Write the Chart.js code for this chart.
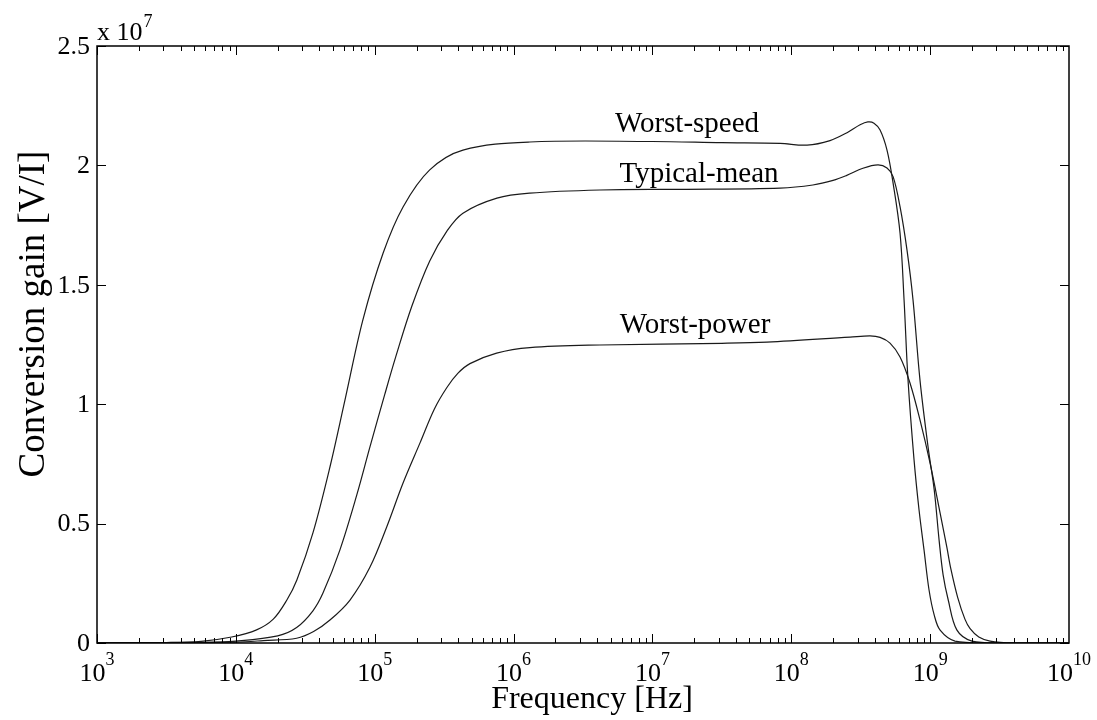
<!DOCTYPE html>
<html>
<head>
<meta charset="utf-8">
<script src="https://cdn.jsdelivr.net/npm/chart.js@4.4.1/dist/chart.umd.min.js"></script>
<style>
html, body { margin: 0; padding: 0; background: #fff; }
#wrap { width: 1097px; height: 720px; }
</style>
</head>
<body>
<div id="wrap"><canvas id="myChart"></canvas></div>
<script>
// frequency in Hz, gain in units of 1e7 V/I
const worstSpeedFreq = [1e3, 3.16e3, 5.62e3, 9.33e3, 1.41e4, 1.86e4, 2.33e4, 2.75e4, 3.59e4, 4.76e4, 6.11e4, 8.22e4, 1.15e5, 1.60e5, 2.49e5, 4.32e5, 1.31e6, 1e7, 3.16e7, 8.30e7, 1.30e8, 1.90e8, 2.52e8, 3.13e8, 3.56e8, 3.94e8, 4.36e8, 4.89e8, 5.41e8, 6.07e8, 6.49e8, 6.93e8, 7.66e8, 8.32e8, 9.04e8, 9.82e8, 1.07e9, 1.18e9, 1.51e9, 2.51e9, 1e10];
const worstSpeedGain = [0.001, 0.002, 0.007, 0.025, 0.055, 0.10, 0.18, 0.264, 0.461, 0.737, 1.018, 1.353, 1.633, 1.826, 1.981, 2.064, 2.098, 2.10, 2.095, 2.092, 2.085, 2.104, 2.137, 2.17, 2.182, 2.177, 2.148, 2.064, 1.926, 1.717, 1.436, 1.101, 0.766, 0.557, 0.389, 0.222, 0.117, 0.054, 0.008, 0, 0];

const typicalMeanFreq = [1e3, 5.62e3, 1e4, 2.0e4, 2.74e4, 3.59e4, 4.24e4, 5.61e4, 7.43e4, 9.23e4, 1.18e5, 1.42e5, 1.85e5, 2.49e5, 3.31e5, 4.32e5, 7.59e5, 1.31e6, 4.19e6, 1.58e7, 8.30e7, 1.43e8, 2.0e8, 2.51e8, 3.28e8, 4.21e8, 4.89e8, 5.41e8, 6.07e8, 6.81e8, 7.53e8, 8.45e8, 9.66e8, 1.07e9, 1.16e9, 1.24e9, 1.35e9, 1.56e9, 2.0e9, 3.16e9, 1e10];
const typicalMeanGain = [0.0005, 0.002, 0.008, 0.03, 0.065, 0.135, 0.209, 0.389, 0.62, 0.82, 1.04, 1.20, 1.41, 1.60, 1.725, 1.80, 1.863, 1.884, 1.897, 1.90, 1.905, 1.918, 1.937, 1.958, 1.988, 2.002, 1.989, 1.953, 1.827, 1.646, 1.436, 1.101, 0.821, 0.641, 0.431, 0.285, 0.180, 0.054, 0.008, 0, 0];

const worstPowerFreq = [1e3, 1e4, 1.58e4, 2.74e4, 3.63e4, 4.76e4, 6.64e4, 9.25e4, 1.22e5, 1.60e5, 2.12e5, 2.69e5, 3.31e5, 3.98e5, 4.85e5, 7.55e5, 1.31e6, 4.19e6, 3.16e7, 6.68e7, 2.65e8, 3.69e8, 4.36e8, 5.14e8, 6.07e8, 7.16e8, 8.45e8, 9.98e8, 1.18e9, 1.32e9, 1.41e9, 1.58e9, 1.78e9, 1.94e9, 2.24e9, 2.70e9, 3.98e9, 1e10];
const worstPowerGain = [0.0003, 0.004, 0.010, 0.020, 0.048, 0.096, 0.18, 0.318, 0.486, 0.670, 0.838, 0.98, 1.07, 1.13, 1.17, 1.214, 1.237, 1.248, 1.255, 1.260, 1.281, 1.286, 1.28, 1.256, 1.198, 1.089, 0.934, 0.754, 0.544, 0.40, 0.31, 0.19, 0.10, 0.06, 0.025, 0.008, 0, 0];

const xTickExps = [3, 4, 5, 6, 7, 8, 9, 10];
const yTicks = [0, 0.5, 1, 1.5, 2, 2.5];
const yTickLabels = ["0", "0.5", "1", "1.5", "2", "2.5"];

const curveLabels = [
  { text: "Worst-speed", x: 687, y: 132 },
  { text: "Typical-mean", x: 699, y: 182 },
  { text: "Worst-power", x: 695, y: 333 },
];

const serif = '"Liberation Serif", "Times New Roman", serif';

function toPoints(freq, gain) {
  return freq.map((f, i) => ({ x: f, y: gain[i] }));
}

const axesPlugin = {
  id: "matlabAxes",
  afterDraw(chart) {
    const { ctx, chartArea: a, scales } = chart;
    const x = scales.x, y = scales.y;
    ctx.save();
    ctx.strokeStyle = "#000";
    ctx.fillStyle = "#000";

    // box
    ctx.lineWidth = 1.5;
    ctx.strokeRect(a.left, a.top, a.right - a.left, a.bottom - a.top);

    // x ticks (major + minor), pointing inwards
    ctx.lineWidth = 1;
    ctx.beginPath();
    for (let e = 3; e < 10; e++) {
      for (let k = 1; k <= 9; k++) {
        const px = Math.round(x.getPixelForValue(k * Math.pow(10, e))) + 0.5;
        const len = k === 1 ? 9 : 5;
        ctx.moveTo(px, a.bottom); ctx.lineTo(px, a.bottom - len);
        ctx.moveTo(px, a.top); ctx.lineTo(px, a.top + len);
      }
    }
    yTicks.forEach((v) => {
      const py = Math.round(y.getPixelForValue(v)) + 0.5;
      ctx.moveTo(a.left, py); ctx.lineTo(a.left + 9, py);
      ctx.moveTo(a.right, py); ctx.lineTo(a.right - 9, py);
    });
    ctx.stroke();

    // x tick labels 10^n
    ctx.textBaseline = "alphabetic";
    ctx.textAlign = "left";
    xTickExps.forEach((e) => {
      const px = x.getPixelForValue(Math.pow(10, e));
      ctx.font = "26px " + serif;
      const wBase = ctx.measureText("10").width;
      ctx.font = "18px " + serif;
      const wExp = ctx.measureText(String(e)).width;
      const left = px - (wBase + wExp) / 2;
      ctx.font = "26px " + serif;
      ctx.fillText("10", left, 681);
      ctx.font = "18px " + serif;
      ctx.fillText(String(e), left + wBase, 665);
    });

    // y tick labels
    ctx.font = "26px " + serif;
    ctx.textAlign = "right";
    ctx.textBaseline = "middle";
    yTicks.forEach((v, i) => {
      ctx.fillText(yTickLabels[i], a.left - 7, y.getPixelForValue(v) + 1);
    });

    // exponent label
    ctx.textAlign = "left";
    ctx.textBaseline = "alphabetic";
    ctx.font = "26px " + serif;
    ctx.fillText("x 10", a.left, 40);
    const wx = ctx.measureText("x 10").width;
    ctx.font = "18px " + serif;
    ctx.fillText("7", a.left + wx + 1, 27);

    // axis titles
    ctx.font = "32px " + serif;
    ctx.textAlign = "center";
    ctx.fillText("Frequency [Hz]", 592, 708);
    ctx.save();
    ctx.font = "37px " + serif;
    ctx.translate(44, 314);
    ctx.rotate(-Math.PI / 2);
    ctx.fillText("Conversion gain [V/I]", 0, 0);
    ctx.restore();

    // curve labels
    ctx.font = "29px " + serif;
    curveLabels.forEach((l) => ctx.fillText(l.text, l.x, l.y));

    ctx.restore();
  },
};

const lineStyle = {
  borderColor: "#1a1a1a",
  borderWidth: 1.2,
  pointRadius: 0,
  fill: false,
  tension: 0.35,
};

new Chart(document.getElementById("myChart"), {
  type: "line",
  data: {
    datasets: [
      { label: "Worst-speed", data: toPoints(worstSpeedFreq, worstSpeedGain), ...lineStyle },
      { label: "Typical-mean", data: toPoints(typicalMeanFreq, typicalMeanGain), ...lineStyle },
      { label: "Worst-power", data: toPoints(worstPowerFreq, worstPowerGain), ...lineStyle },
    ],
  },
  options: {
    responsive: true,
    maintainAspectRatio: false,
    animation: false,
    layout: { padding: { left: 97, top: 46, right: 28, bottom: 77 } },
    scales: {
      x: { type: "logarithmic", min: 1e3, max: 1e10, display: false },
      y: { type: "linear", min: 0, max: 2.5, display: false },
    },
    plugins: {
      legend: { display: false },
      tooltip: { enabled: false },
    },
  },
  plugins: [axesPlugin],
});
</script>
</body>
</html>
